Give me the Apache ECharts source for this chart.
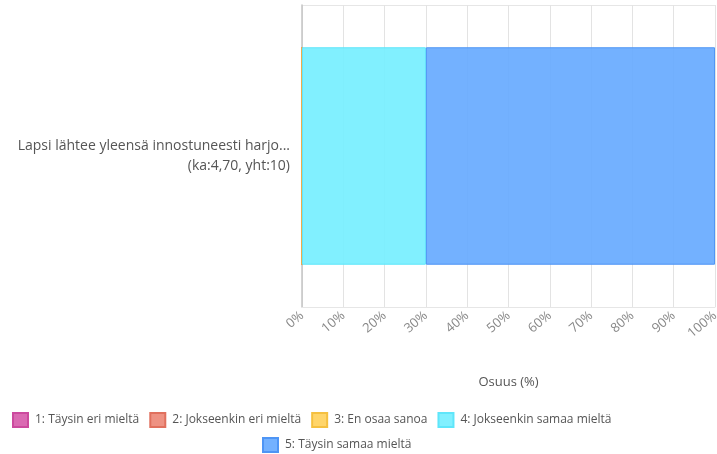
<!DOCTYPE html>
<html>
<head>
<meta charset="utf-8">
<script src="https://cdn.jsdelivr.net/npm/echarts@6/dist/echarts.min.js"></script>
<style>
html,body{margin:0;padding:0;background:#fff;}
#chart{width:717px;height:454px;}
</style>
</head>
<body>
<div id="chart"></div>
<script>
// Kysymys ja vastausjakauma (%)
const categories = ['Lapsi lähtee yleensä innostuneesti harjo...\n(ka:4,70, yht:10)'];
const seriesNames = ['1: Täysin eri mieltä', '2: Jokseenkin eri mieltä', '3: En osaa sanoa', '4: Jokseenkin samaa mieltä', '5: Täysin samaa mieltä'];
const values1 = [0];
const values2 = [0];
const values3 = [0];
const values4 = [30];
const values5 = [70];
const xTicks = [0, 10, 20, 30, 40, 50, 60, 70, 80, 90, 100];

const fills = ['rgba(214,90,170,0.9)', 'rgba(236,134,118,0.9)', 'rgba(255,208,90,0.9)', 'rgba(115,238,255,0.9)', 'rgba(100,168,255,0.9)'];
const borders = ['#cc4a9e', '#e0705e', '#f5c040', '#5fe6fa', '#4e95f5'];
const allValues = [values1, values2, values3, values4, values5];

const font = '"Open Sans", Lato, sans-serif';

const series = seriesNames.map((name, i) => ({
  name: name,
  type: 'bar',
  stack: 'total',
  barWidth: '72%',
  data: allValues[i],
  itemStyle: { color: fills[i], borderColor: borders[i], borderWidth: 1 },
  emphasis: { disabled: true }
}));

const legendBase = {
  icon: 'rect',
  itemWidth: 15,
  itemHeight: 14,
  itemGap: 10,
  textStyle: { color: '#555', fontSize: 12, fontFamily: font, padding: [0, 0, 0, 2] },
  selectedMode: false
};

const chart = echarts.init(document.getElementById('chart'), null, { renderer: 'canvas' });
chart.setOption({
  animation: false,
  textStyle: { fontFamily: font },
  grid: { left: 302, right: 2, top: 5, bottom: 147, outerBoundsMode: 'none', containLabel: false },
  xAxis: {
    type: 'value',
    min: xTicks[0],
    max: xTicks[xTicks.length - 1],
    interval: 10,
    name: 'Osuus (%)',
    nameLocation: 'middle',
    nameGap: 69,
    nameTextStyle: { color: '#555', fontSize: 13, fontFamily: font },
    axisLine: { show: true, lineStyle: { color: '#e6e6e6' } },
    axisTick: { show: false },
    splitLine: { show: true, lineStyle: { color: '#e3e3e3', width: 1 } },
    axisLabel: {
      rotate: 40,
      color: '#888',
      fontSize: 13,
      fontFamily: font,
      margin: 7,
      formatter: v => v + '%'
    }
  },
  yAxis: {
    type: 'category',
    data: categories,
    axisLine: { show: true, lineStyle: { color: '#c4c4c4', width: 1.5 } },
    axisTick: { show: false },
    splitLine: { show: true, lineStyle: { color: '#e6e6e6' } },
    axisLabel: {
      color: '#555',
      fontSize: 14,
      fontFamily: font,
      lineHeight: 20,
      margin: 12,
      align: 'right'
    }
  },
  legend: [
    Object.assign({ data: seriesNames.slice(0, 4), left: 7, top: 407 }, legendBase),
    Object.assign({ data: seriesNames.slice(4), left: 257, top: 432 }, legendBase)
  ],
  series: series
});
</script>
</body>
</html>
